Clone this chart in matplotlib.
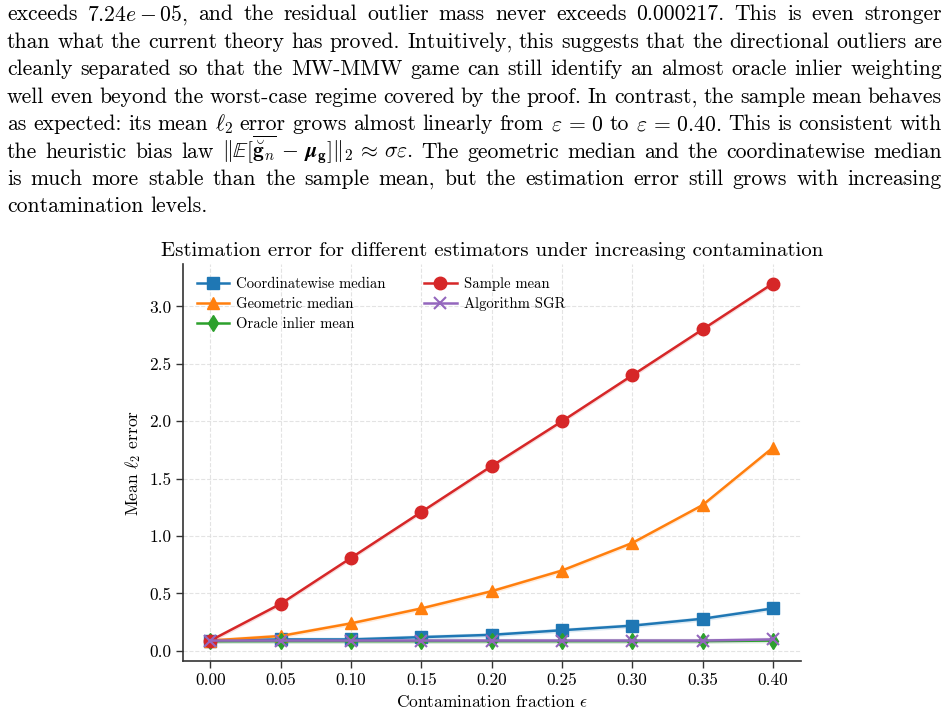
import numpy as np
import matplotlib
matplotlib.use("Agg")
import matplotlib.pyplot as plt

plt.rcParams['font.family'] = 'serif'
plt.rcParams['font.serif'] = ['cmr10']
plt.rcParams['mathtext.fontset'] = 'cm'
plt.rcParams['axes.formatter.use_mathtext'] = True
plt.rcParams['axes.unicode_minus'] = False

# ---------------- data ----------------
eps = [0.00, 0.05, 0.10, 0.15, 0.20, 0.25, 0.30, 0.35, 0.40]
coord_median = [0.09, 0.10, 0.10, 0.12, 0.14, 0.18, 0.22, 0.28, 0.37]
geom_median = [0.09, 0.13, 0.24, 0.37, 0.52, 0.70, 0.94, 1.27, 1.77]
oracle_mean = [0.085, 0.085, 0.085, 0.085, 0.085, 0.085, 0.085, 0.085, 0.09]
sample_mean = [0.09, 0.41, 0.81, 1.21, 1.61, 2.00, 2.40, 2.80, 3.20]
sgr = [0.09, 0.09, 0.09, 0.09, 0.09, 0.09, 0.09, 0.09, 0.10]
band = 0.02  # half-width of shaded spread bands

labels = ["Coordinatewise median", "Geometric median", "Oracle inlier mean",
          "Sample mean", "Algorithm SGR"]
xticks = [0.00, 0.05, 0.10, 0.15, 0.20, 0.25, 0.30, 0.35, 0.40]
yticks = [0.0, 0.5, 1.0, 1.5, 2.0, 2.5, 3.0]

paragraph = [
    r"exceeds $7.24e-05$, and the residual outlier mass never exceeds 0.000217.  This is even stronger",
    r"than what the current theory has proved. Intuitively, this suggests that the directional outliers are",
    r"cleanly separated so that the MW-MMW game can still identify an almost oracle inlier weighting",
    r"well even beyond the worst-case regime covered by the proof. In contrast, the sample mean behaves",
    r"as expected: its mean $\ell_2$ error grows almost linearly from $\varepsilon\,=\,0$ to $\varepsilon\,=\,0.40$. This is consistent with",
    r"the heuristic bias law $\|\mathbb{E}[\overline{\breve{\mathbf{g}}_n}\,-\,\boldsymbol{\mu}_{\mathbf{g}}]\|_2\,\approx\,\sigma\varepsilon$. The geometric median and the coordinatewise median",
    r"is much more stable than the sample mean, but the estimation error still grows with increasing",
    r"contamination levels.",
]

# ---------------- figure ----------------
W, H = 949, 715
fig = plt.figure(figsize=(W / 100, H / 100), dpi=100)
ax = fig.add_axes([183 / W, 1 - 661 / H, (801 - 183) / W, (661 - 264) / H])

series = [coord_median, geom_median, oracle_mean, sample_mean, sgr]
colors = ["#1f77b4", "#ff7f0e", "#2ca02c", "#d62728", "#9467bd"]
markers = ["s", "^", "d", "o", "x"]
msizes = [9, 9, 8, 9, 8]

for y, c, m, ms, lab in zip(series, colors, markers, msizes, labels):
    y = np.asarray(y)
    ax.fill_between(eps, y - band, y + band, color=c, alpha=0.15, lw=0)
    ax.plot(eps, y, color=c, marker=m, markersize=ms, lw=1.8, label=lab,
            markeredgewidth=1.5 if m == "x" else 1.0)

ax.set_xlim(-0.0195, 0.42)
ax.set_ylim(-0.088, 3.37)
ax.set_xticks(xticks)
ax.set_xticklabels([f"{v:.2f}" for v in xticks])
ax.set_yticks(yticks)
ax.set_yticklabels([f"{v:.1f}" for v in yticks])
ax.tick_params(labelsize=12.5, direction='out', length=5, width=1.0, colors='#333333',
               labelcolor='black')
ax.grid(True, ls='--', color='#dddddd', lw=0.8, alpha=0.8)
for s in ['top', 'right']:
    ax.spines[s].set_visible(False)
for s in ['left', 'bottom']:
    ax.spines[s].set_linewidth(1.2)
    ax.spines[s].set_color('#333333')

ax.set_title("Estimation error for different estimators under increasing contamination",
             fontsize=15, pad=6)
ax.set_xlabel(r"Contamination fraction $\epsilon$", fontsize=12.5, labelpad=4)
ax.set_ylabel(r"Mean $\ell_2$ error", fontsize=12.5, labelpad=4)
ax.legend(loc='upper left', ncol=2, frameon=False, fontsize=10.6,
          handlelength=2.2, handletextpad=0.5, columnspacing=2.6, labelspacing=0.42,
          borderaxespad=0.4, bbox_to_anchor=(0.003, 0.997))

# ---------------- justified paragraph ----------------
fig.canvas.draw()
renderer = fig.canvas.get_renderer()
x0, x1 = 7, 942
base0, step = 20.5, 27.4
fs = 15.6
for i, line in enumerate(paragraph):
    words = [w for w in line.split(" ") if w != ""]
    yb = 1 - (base0 + step * i) / H
    texts = [fig.text(0, yb, w, fontsize=fs, va='baseline', ha='left') for w in words]
    widths = [t.get_window_extent(renderer).width for t in texts]
    last = (i == len(paragraph) - 1)
    if last or len(words) == 1:
        space = fs * 100 / 72 * 0.333
    else:
        space = (x1 - x0 - sum(widths)) / (len(words) - 1)
    x = x0
    for t, w in zip(texts, widths):
        t.set_x(x / W)
        x += w + space

fig.savefig("out.png", dpi=100)
